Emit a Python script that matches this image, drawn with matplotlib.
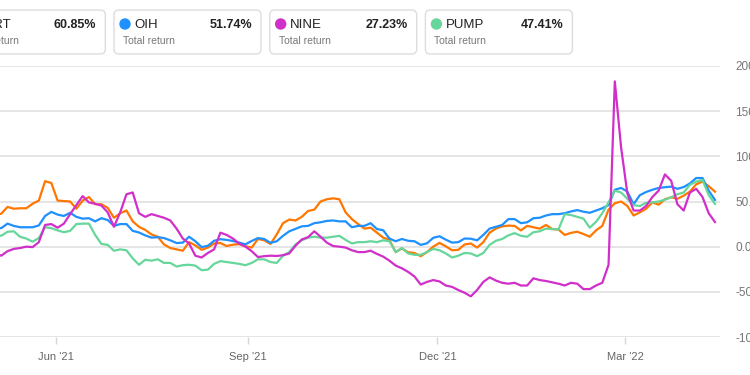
import matplotlib
matplotlib.use("Agg")
import matplotlib.pyplot as plt
import matplotlib.dates as mdates
from matplotlib.patches import FancyBboxPatch, Circle
from matplotlib.ticker import FuncFormatter
import pandas as pd

plt.rcParams['font.family'] = ['Liberation Sans', 'DejaVu Sans']

# one reading every 3 days, May 3 2021 .. Apr 13 2022
dates = pd.date_range('2021-05-03', periods=116, freq='3D')

tickers = ['LBRT', 'OIH', 'NINE', 'PUMP']
total_returns = ['60.85%', '51.74%', '27.23%', '47.41%']
colors = ['#ff7700', '#1e90ff', '#d12fc9', '#66d69a']

lbrt = [35, 36.5, 44, 42, 42.5, 42.5, 47.5, 51, 72.5, 70.5,
        51, 50.5, 50, 42, 51, 55, 47, 47, 43, 32,
        37, 40, 28, 22, 18.5, 13.5, 11, 2.5, -1.5, -3,
        -4.5, 5, 1.5, -3.5, -1, 3.5, 4, 0.7, 2.2, 2.8,
        0.5, -1, 8.5, 7, 3, 13.5, 26, 30, 29, 33,
        39.5, 41, 50, 52.5, 53.5, 52.5, 38, 30.5, 25, 20,
        21, 15.5, 10, 7.5, -6, -2, -6.2, -7, -10.5, -6,
        0, 4.2, 0.4, -4, -3.5, 2.4, 3.5, -1, 5, 15.5,
        20, 22.5, 23.3, 23, 18, 23, 21.5, 20, 24, 19.5,
        19, 13, 15.3, 16.5, 14, 11, 18, 23, 41, 48,
        50, 45, 34.5, 38, 42, 49, 46.5, 52.5, 54.7, 53,
        56.5, 61, 69, 72, 67, 60.85]

oih = [21, 20.5, 25.5, 23, 21.5, 21.5, 21.5, 23.5, 34, 38.5,
       35.5, 34, 37.5, 33, 31, 31.5, 28, 31.5, 29.5, 23,
       25, 25, 17.5, 15.7, 12.5, 10, 10.5, 9.5, 7, 4,
       4.5, 11, 6, -0.5, 1, 6.5, 8.3, 7.5, 6.3, 4.5,
       2.6, 6.3, 9.5, 8.5, 4.2, 6, 12, 17, 19.7, 22.5,
       23, 26, 27, 28.5, 29, 28, 28, 21.5, 23, 23,
       26, 19.5, 18.2, 9, 6, 8.5, 6.5, 6, 2, 3.7,
       9.8, 11.5, 7.8, 4.5, 5, 9, 8.8, 7, 13, 20,
       22, 24, 30.5, 30.5, 26, 27, 31.5, 32, 34.5, 36,
       36, 37, 39, 40.5, 38.7, 37.5, 40, 42.5, 46, 63,
       65, 61, 47, 57, 60.5, 63, 65, 65.8, 66.5, 64,
       66, 70, 76, 76, 62, 51.74]

nine = [-7, -10, -5, -2.5, -1.5, 0, -0.5, 5, 24, 25,
        21, 25.5, 36, 46, 56, 49, 47.5, 45.5, 38, 22,
        38, 58, 60, 37, 33, 36, 34, 32, 29, 20,
        9, 3.5, -10, -12, -7, -3, 15.5, 13, 9, 3.4,
        0, -5, -11.5, -10.5, -10, -10.3, -9.5, -7.5, 1, 8,
        10.5, 17, 11, 4.5, 0.7, 0, -1, -4, -6, -6,
        -4.5, -8, -11, -15.5, -21, -24, -28, -33, -42, -39,
        -37, -38.5, -43, -44.5, -48, -51, -55, -48, -39, -34,
        -37.5, -40, -41, -40, -43, -43, -35, -37, -38, -39.5,
        -41, -43, -40, -41, -47, -47, -43, -40, -20, 183,
        110, 59, 40, 40, 45, 55, 62, 80, 73, 47,
        40, 60, 64, 55, 37, 27.23]

pump = [14, 12, 16.5, 17, 11, 9, 5.5, 9.5, 21.5, 20.5,
        18, 16, 17.5, 25, 25.5, 25.5, 13, 3, 2, -4.5,
        -3, -4, -13, -20, -14.5, -15.5, -14, -18, -18, -22,
        -20.5, -20, -21, -26, -25.5, -19, -16, -17, -18, -19,
        -20.5, -18, -14, -14, -17, -18, -10, -6, 2.5, 7,
        10, 11, 10, 10, 11, 12, 7.5, 3.5, 5, 5,
        6, 5, 7, 6, -6, -1.5, -7.5, -9, -9, -6,
        -2.5, -4, -7.5, -12, -10, -7, -7.5, -10.5, -7, 2,
        6.5, 8.5, 12.5, 15, 12, 11, 16, 17, 20, 19.5,
        19, 36, 35, 33, 31, 21, 27.5, 37, 49, 62,
        60, 53, 46, 45, 48.5, 49, 50, 52, 54.7, 58,
        60, 68.5, 72, 74, 57, 47.41]

series = [lbrt, oih, pump, nine]
series_colors = [colors[0], colors[1], colors[3], colors[2]]

fig = plt.figure(figsize=(7.5, 3.75), dpi=100)

# header cards, drawn in pixel units
hdr = fig.add_axes([0, 0, 1, 1])
hdr.set_xlim(0, 750)
hdr.set_ylim(375, 0)
hdr.axis('off')
hdr.patch.set_visible(False)
for i, (t, r, c) in enumerate(zip(tickers, total_returns, colors)):
    x0 = -41.7 + i * 155.7
    hdr.add_patch(FancyBboxPatch((x0, 10), 147, 44,
                                 boxstyle="round,pad=0,rounding_size=5",
                                 fc='white', ec='#dddddd', lw=1))
    hdr.add_patch(Circle((x0 + 11, 24), 5, color=c))
    hdr.text(x0 + 20, 24.5, t, fontsize=9.5, color='#222222', va='center', ha='left')
    hdr.text(x0 + 138, 24.5, r, fontsize=9, color='#222222', va='center', ha='right',
             fontweight='bold')
    hdr.text(x0 + 9, 40.5, 'Total return', fontsize=7.5, color='#777777',
             va='center', ha='left')

ax = fig.add_axes([0, (375 - 337) / 375, 720 / 750, (337 - 66) / 375])
for vals, c in zip(series, series_colors):
    ax.plot(dates, vals, color=c, lw=1.6, solid_joinstyle='round')

jun1 = pd.Timestamp('2021-06-01')
ax.set_xlim(mdates.date2num(jun1) - 26.6, mdates.date2num(jun1) + 318.4)
ax.set_ylim(-100, 200)
ax.set_yticks([-100, -50, 0, 50, 100, 150, 200])
ax.yaxis.set_major_formatter(FuncFormatter(lambda v, p: f'{v:.2f}%'))
ax.yaxis.tick_right()
ax.tick_params(axis='y', length=0, pad=10.8, labelsize=8.5, labelcolor='#777777')

ax.set_xticks([pd.Timestamp(d) for d in ['2021-06-01', '2021-09-01', '2021-12-01', '2022-03-01']])
ax.set_xticklabels(["Jun '21", "Sep '21", "Dec '21", "Mar '22"])
ax.tick_params(axis='x', length=5, width=1, color='#d6d6d6', pad=6,
               labelsize=8, labelcolor='#666666')

ax.grid(axis='y', color='#e3e3e3', lw=1.3)
ax.set_axisbelow(True)
for s in ax.spines.values():
    s.set_visible(False)
ax.patch.set_visible(False)

fig.savefig('out.png', dpi=100)
